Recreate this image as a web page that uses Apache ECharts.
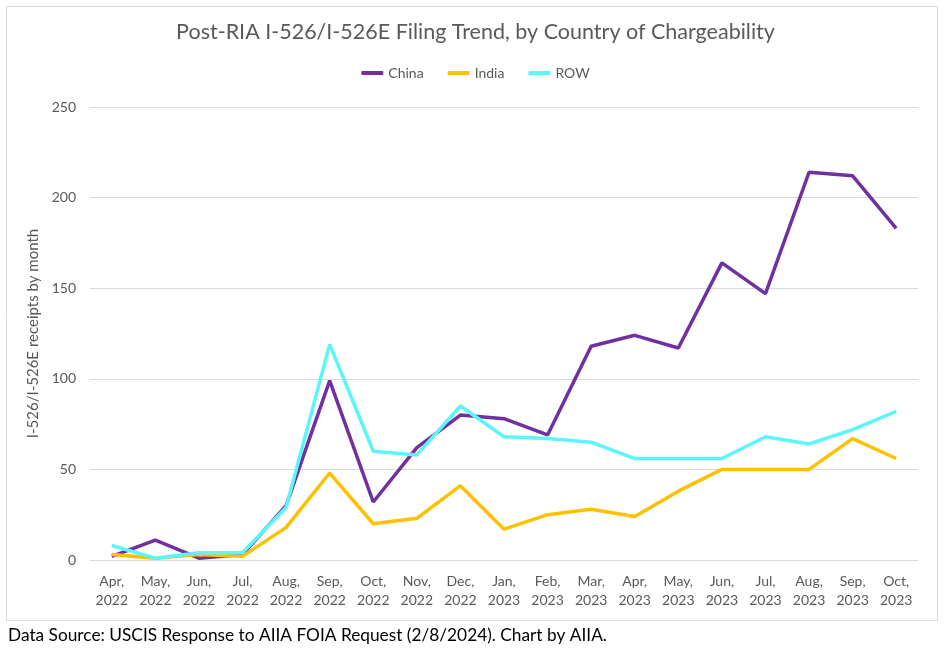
<!DOCTYPE html>
<html><head><meta charset="utf-8">
<script src="https://cdn.jsdelivr.net/npm/echarts@6/dist/echarts.min.js"></script>
<style>html,body{margin:0;padding:0;background:#fff}#c{width:951px;height:656px}</style>
</head><body><div id="c"></div>
<script>
const months = ["Apr,\n2022","May,\n2022","Jun,\n2022","Jul,\n2022","Aug,\n2022","Sep,\n2022","Oct,\n2022","Nov,\n2022","Dec,\n2022","Jan,\n2023","Feb,\n2023","Mar,\n2023","Apr,\n2023","May,\n2023","Jun,\n2023","Jul,\n2023","Aug,\n2023","Sep,\n2023","Oct,\n2023"];
const china = [2,11,1,3,30,99,32,62,80,78,69,118,124,117,164,147,214,212,183];
const india = [3,1,3,2,18,48,20,23,41,17,25,28,24,38,50,50,50,67,56];
const row = [8,1,4,4,29,119,60,58,85,68,67,65,56,56,56,68,64,72,82];
const yTicks = [0,50,100,150,200,250];

const FONT = 'Lato';
const chart = echarts.init(document.getElementById('c'), null, {renderer:'canvas'});
chart.setOption({
  animation:false,
  backgroundColor:'#fff',
  title:{text:'Post-RIA I-526/I-526E Filing Trend, by Country of Chargeability',left:'center',top:16,
    textStyle:{fontFamily:FONT,fontSize:21.5,fontWeight:'normal',color:'#595959'}},
  legend:{top:61,left:'center',icon:'roundRect',itemWidth:22,itemHeight:4,itemGap:24,
    textStyle:{fontFamily:FONT,fontSize:14,color:'#595959'},
    data:['China','India','ROW']},
  grid:{left:90,right:33,top:107,bottom:96,containLabel:false},
  xAxis:{type:'category',data:months,boundaryGap:true,
    axisLine:{show:true,lineStyle:{color:'#d9d9d9'}},axisTick:{show:false},
    axisLabel:{fontFamily:FONT,fontSize:14,color:'#595959',lineHeight:19,margin:12,interval:0}},
  yAxis:{type:'value',min:yTicks[0],max:yTicks[yTicks.length-1],interval:50,
    name:'I-526/I-526E receipts by month',nameLocation:'middle',nameGap:47,
    nameTextStyle:{fontFamily:FONT,fontSize:15,color:'#595959'},
    axisLine:{show:false},axisTick:{show:false},
    axisLabel:{fontFamily:FONT,fontSize:14,color:'#595959',margin:14},
    splitLine:{lineStyle:{color:'#d9d9d9',width:1}}},
  series:[
    {name:'China',type:'line',data:china,symbol:'none',lineStyle:{width:3.5,color:'#7030A0'},itemStyle:{color:'#7030A0'}},
    {name:'India',type:'line',data:india,symbol:'none',lineStyle:{width:3.5,color:'#FFC000'},itemStyle:{color:'#FFC000'}},
    {name:'ROW',type:'line',data:row,symbol:'none',lineStyle:{width:3.5,color:'#5CF5FA'},itemStyle:{color:'#5CF5FA'}}
  ],
  graphic:[
    {type:'rect',shape:{x:6.5,y:6.5,width:931,height:614},style:{fill:null,stroke:'#d9d9d9',lineWidth:1},silent:true,z:-1},
    {type:'text',left:8,top:627,style:{text:'Data Source: USCIS Response to AIIA FOIA Request (2/8/2024). Chart by AIIA.',fill:'#000',font:'17.3px '+FONT}}
  ]
});
</script></body></html>
